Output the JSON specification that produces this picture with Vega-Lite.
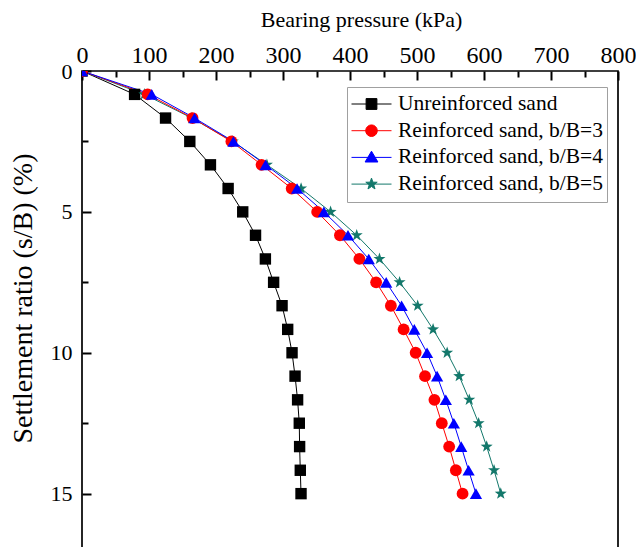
{
  "$schema": "https://vega.github.io/schema/vega-lite/v6.json",
  "autosize": {"type": "none"},
  "padding": {"left": 82, "top": 71, "right": 18, "bottom": 0},
  "width": 536,
  "height": 479,
  "background": "white",
  "config": {
    "view": {"stroke": "black", "strokeWidth": 1.7},
    "axis": {"labelFont": "Liberation Serif", "titleFont": "Liberation Serif", "labelColor": "black", "titleColor": "black", "tickColor": "#000000", "domain": false, "grid": false, "titleFontWeight": "normal", "labelFlush": false, "labelOverlap": false, "tickWidth": 2, "ticks": true, "tickOpacity": 1}
  },
  "data": {"values": [
    {"series": "Unreinforced sand", "s": 0, "p": 0},
    {"series": "Unreinforced sand", "s": 0.83, "p": 78.5},
    {"series": "Unreinforced sand", "s": 1.67, "p": 124.7},
    {"series": "Unreinforced sand", "s": 2.5, "p": 160.9},
    {"series": "Unreinforced sand", "s": 3.33, "p": 191.7},
    {"series": "Unreinforced sand", "s": 4.17, "p": 218.1},
    {"series": "Unreinforced sand", "s": 5, "p": 239.9},
    {"series": "Unreinforced sand", "s": 5.83, "p": 259},
    {"series": "Unreinforced sand", "s": 6.67, "p": 273.7},
    {"series": "Unreinforced sand", "s": 7.5, "p": 286},
    {"series": "Unreinforced sand", "s": 8.33, "p": 298.6},
    {"series": "Unreinforced sand", "s": 9.17, "p": 307},
    {"series": "Unreinforced sand", "s": 10, "p": 313.5},
    {"series": "Unreinforced sand", "s": 10.83, "p": 318},
    {"series": "Unreinforced sand", "s": 11.67, "p": 321.8},
    {"series": "Unreinforced sand", "s": 12.5, "p": 324.3},
    {"series": "Unreinforced sand", "s": 13.33, "p": 324.8},
    {"series": "Unreinforced sand", "s": 14.17, "p": 325.8},
    {"series": "Unreinforced sand", "s": 15, "p": 326.9},
    {"series": "Reinforced sand, b/B=5", "s": 0, "p": 0},
    {"series": "Reinforced sand, b/B=5", "s": 0.83, "p": 93},
    {"series": "Reinforced sand, b/B=5", "s": 1.67, "p": 164},
    {"series": "Reinforced sand, b/B=5", "s": 2.5, "p": 225},
    {"series": "Reinforced sand, b/B=5", "s": 3.33, "p": 276},
    {"series": "Reinforced sand, b/B=5", "s": 4.17, "p": 327},
    {"series": "Reinforced sand, b/B=5", "s": 5, "p": 371},
    {"series": "Reinforced sand, b/B=5", "s": 5.83, "p": 410},
    {"series": "Reinforced sand, b/B=5", "s": 6.67, "p": 444},
    {"series": "Reinforced sand, b/B=5", "s": 7.5, "p": 474},
    {"series": "Reinforced sand, b/B=5", "s": 8.33, "p": 501},
    {"series": "Reinforced sand, b/B=5", "s": 9.17, "p": 524},
    {"series": "Reinforced sand, b/B=5", "s": 10, "p": 545},
    {"series": "Reinforced sand, b/B=5", "s": 10.83, "p": 563},
    {"series": "Reinforced sand, b/B=5", "s": 11.67, "p": 578},
    {"series": "Reinforced sand, b/B=5", "s": 12.5, "p": 592},
    {"series": "Reinforced sand, b/B=5", "s": 13.33, "p": 604},
    {"series": "Reinforced sand, b/B=5", "s": 14.17, "p": 615},
    {"series": "Reinforced sand, b/B=5", "s": 15, "p": 625},
    {"series": "Reinforced sand, b/B=3", "s": 0, "p": 0},
    {"series": "Reinforced sand, b/B=3", "s": 0.83, "p": 98},
    {"series": "Reinforced sand, b/B=3", "s": 1.67, "p": 165},
    {"series": "Reinforced sand, b/B=3", "s": 2.5, "p": 223},
    {"series": "Reinforced sand, b/B=3", "s": 3.33, "p": 268},
    {"series": "Reinforced sand, b/B=3", "s": 4.17, "p": 313},
    {"series": "Reinforced sand, b/B=3", "s": 5, "p": 351},
    {"series": "Reinforced sand, b/B=3", "s": 5.83, "p": 385},
    {"series": "Reinforced sand, b/B=3", "s": 6.67, "p": 414},
    {"series": "Reinforced sand, b/B=3", "s": 7.5, "p": 439},
    {"series": "Reinforced sand, b/B=3", "s": 8.33, "p": 461},
    {"series": "Reinforced sand, b/B=3", "s": 9.17, "p": 480},
    {"series": "Reinforced sand, b/B=3", "s": 10, "p": 498},
    {"series": "Reinforced sand, b/B=3", "s": 10.83, "p": 512},
    {"series": "Reinforced sand, b/B=3", "s": 11.67, "p": 526},
    {"series": "Reinforced sand, b/B=3", "s": 12.5, "p": 537},
    {"series": "Reinforced sand, b/B=3", "s": 13.33, "p": 548},
    {"series": "Reinforced sand, b/B=3", "s": 14.17, "p": 558},
    {"series": "Reinforced sand, b/B=3", "s": 15, "p": 568},
    {"series": "Reinforced sand, b/B=4", "s": 0, "p": 0},
    {"series": "Reinforced sand, b/B=4", "s": 0.83, "p": 104},
    {"series": "Reinforced sand, b/B=4", "s": 1.67, "p": 168},
    {"series": "Reinforced sand, b/B=4", "s": 2.5, "p": 226},
    {"series": "Reinforced sand, b/B=4", "s": 3.33, "p": 274},
    {"series": "Reinforced sand, b/B=4", "s": 4.17, "p": 321},
    {"series": "Reinforced sand, b/B=4", "s": 5, "p": 361},
    {"series": "Reinforced sand, b/B=4", "s": 5.83, "p": 397},
    {"series": "Reinforced sand, b/B=4", "s": 6.67, "p": 428},
    {"series": "Reinforced sand, b/B=4", "s": 7.5, "p": 454},
    {"series": "Reinforced sand, b/B=4", "s": 8.33, "p": 477},
    {"series": "Reinforced sand, b/B=4", "s": 9.17, "p": 496},
    {"series": "Reinforced sand, b/B=4", "s": 10, "p": 515},
    {"series": "Reinforced sand, b/B=4", "s": 10.83, "p": 530},
    {"series": "Reinforced sand, b/B=4", "s": 11.67, "p": 543},
    {"series": "Reinforced sand, b/B=4", "s": 12.5, "p": 555},
    {"series": "Reinforced sand, b/B=4", "s": 13.33, "p": 566},
    {"series": "Reinforced sand, b/B=4", "s": 14.17, "p": 577},
    {"series": "Reinforced sand, b/B=4", "s": 15, "p": 588}
  ]},
  "encoding": {
    "color": {
      "field": "series", "type": "nominal",
      "scale": {"domain": ["Unreinforced sand", "Reinforced sand, b/B=3", "Reinforced sand, b/B=4", "Reinforced sand, b/B=5"], "range": ["#000000", "#ff0000", "#0000ff", "#13786b"]},
      "legend": {
        "orient": "none", "legendX": 265, "legendY": 16, "title": null,
        "symbolSize": 1600, "clipHeight": 26, "rowPadding": 0.7, "padding": 4, "symbolOffset": 0, "labelOffset": 6,
        "labelFont": "Liberation Serif", "labelFontSize": 21.5, "labelColor": "black", "labelLimit": 0,
        "strokeColor": "#a0a0a0", "fillColor": "white",
        "encode": {"symbols": {"update": {
          "shape": {"signal": "['M-1,0L1,0M-0.27,-0.27L0.27,-0.27L0.27,0.27L-0.27,0.27Z', 'M-1,0L1,0M-0.29,0A0.29,0.29,0,1,1,0.29,0A0.29,0.29,0,1,1,-0.29,0Z', 'M-1,0L1,0M0,-0.31L0.32,0.23L-0.32,0.23Z', 'M-1,0L1,0M0,-0.3L0.07,-0.097L0.285,-0.093L0.114,0.037L0.176,0.243L0,0.12L-0.176,0.243L-0.114,0.037L-0.285,-0.093L-0.07,-0.097Z'][datum.index]"},
          "fill": {"signal": "scale('color', datum.value)"},
          "stroke": {"signal": "scale('color', datum.value)"},
          "strokeWidth": {"value": 1},
          "size": {"value": 1600},
          "opacity": {"value": 1}
        }}}
      }
    }
  },
  "layer": [
    {
      "mark": {"type": "line", "strokeWidth": 1},
      "encoding": {
        "x": {"field": "p", "type": "quantitative", "scale": {"domain": [0, 800], "nice": false, "zero": false},
          "axis": {"orient": "top", "values": [0, 100, 200, 300, 400, 500, 600, 700, 800], "offset": -9, "tickSize": 9, "labelPadding": 4, "labelFontSize": 24, "title": "Bearing pressure (kPa)", "titleFontSize": 22, "titlePadding": 12, "titleX": 279}},
        "y": {"field": "s", "type": "quantitative", "scale": {"domain": [0, 17], "nice": false, "reverse": true},
          "axis": {"orient": "left", "values": [0, 5, 10, 15], "offset": -9, "tickSize": 9, "labelPadding": 10, "labelFontSize": 22, "title": "Settlement ratio (s/B) (%)", "titleFontSize": 28, "titlePadding": 13, "titleY": 227}},
        "order": {"field": "s", "type": "quantitative"}
      }
    },
    {
      "transform": [{"filter": "datum.series === 'Unreinforced sand'"}],
      "mark": {"type": "point", "filled": true, "opacity": 1, "size": 130, "shape": "square", "clip": true},
      "encoding": {
        "x": {"field": "p", "type": "quantitative",
          "axis": {"orient": "top", "values": [50, 150, 250, 350, 450, 550, 650, 750], "offset": -6, "tickSize": 6, "labels": false, "title": null}},
        "y": {"field": "s", "type": "quantitative",
          "axis": {"orient": "left", "values": [2.5, 7.5, 12.5], "offset": -6, "tickSize": 6, "labels": false, "title": null}}
      }
    },
    {
      "transform": [{"filter": "datum.series === 'Reinforced sand, b/B=5'"}],
      "mark": {"type": "point", "filled": true, "opacity": 1, "size": 160, "shape": "M0,-1L0.235,-0.324L0.951,-0.309L0.38,0.124L0.588,0.809L0,0.4L-0.588,0.809L-0.38,0.124L-0.951,-0.309L-0.235,-0.324Z", "clip": true},
      "encoding": {
        "x": {"field": "p", "type": "quantitative", "axis": null},
        "y": {"field": "s", "type": "quantitative", "axis": null}
      }
    },
    {
      "transform": [{"filter": "datum.series === 'Reinforced sand, b/B=3'"}],
      "mark": {"type": "point", "filled": true, "opacity": 1, "size": 140, "shape": "circle", "clip": true},
      "encoding": {
        "x": {"field": "p", "type": "quantitative", "axis": null},
        "y": {"field": "s", "type": "quantitative", "axis": null}
      }
    },
    {
      "transform": [{"filter": "datum.series === 'Reinforced sand, b/B=4'"}],
      "mark": {"type": "point", "filled": true, "opacity": 1, "size": 150, "shape": "triangle-up", "clip": true},
      "encoding": {
        "x": {"field": "p", "type": "quantitative", "axis": null},
        "y": {"field": "s", "type": "quantitative", "axis": null}
      }
    }
  ],
  "resolve": {"axis": {"x": "independent", "y": "independent"}}
}
